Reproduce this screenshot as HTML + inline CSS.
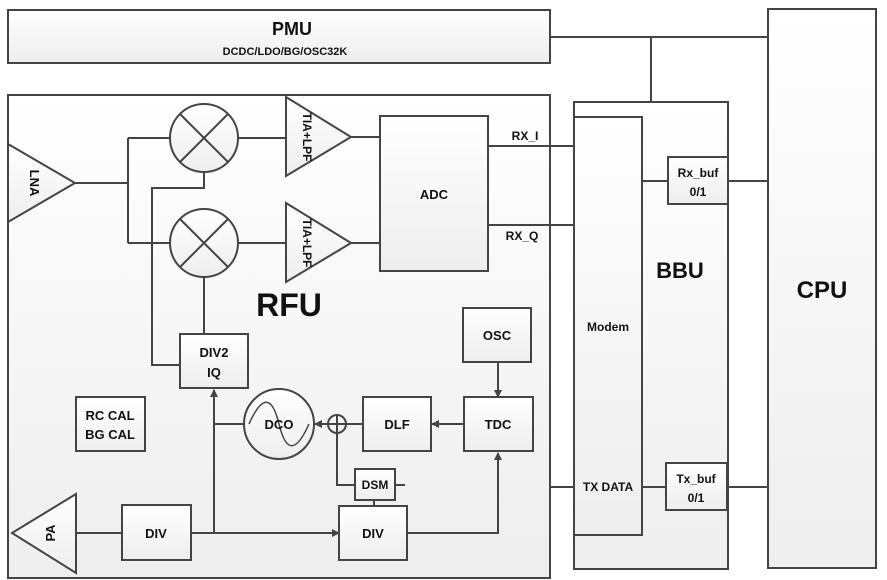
<!DOCTYPE html>
<html><head><meta charset="utf-8"><style>
html,body{margin:0;padding:0;background:#fff;}
svg{display:block;}
text{font-family:"Liberation Sans",sans-serif;font-weight:bold;fill:#111;}
</style></head><body>
<svg width="887" height="580" viewBox="0 0 887 580" xmlns="http://www.w3.org/2000/svg">
<defs>
<linearGradient id="g" x1="0" y1="0" x2="0" y2="1"><stop offset="0" stop-color="#ffffff"/><stop offset="1" stop-color="#eeeeee"/></linearGradient>
<marker id="a" markerWidth="8" markerHeight="8" refX="7" refY="4" orient="auto" markerUnits="userSpaceOnUse"><path d="M0,0 L8,4 L0,8z" fill="#444"/></marker>
</defs>
<g stroke="#444" stroke-width="2" fill="url(#g)">
<rect x="8" y="10" width="542" height="53"/>
<rect x="8" y="95" width="542" height="483"/>
<rect x="574" y="102" width="154" height="467"/>
<rect x="574" y="117" width="68" height="418"/>
<rect x="768" y="9" width="108" height="559"/>
<rect x="668" y="157" width="60" height="47"/>
<rect x="666" y="463" width="61" height="47"/>
<rect x="380" y="116" width="108" height="155"/>
<rect x="180" y="334" width="68" height="54"/>
<rect x="76" y="397" width="69" height="54"/>
<rect x="363" y="397" width="68" height="54"/>
<rect x="464" y="397" width="69" height="54"/>
<rect x="463" y="308" width="68" height="54"/>
<rect x="355" y="469" width="40" height="31"/>
<rect x="339" y="506" width="68" height="54"/>
<rect x="122" y="505" width="69" height="55"/>
<polygon points="8,144 75,183 8,222"/>
<polygon points="286,97 351,137 286,176"/>
<polygon points="286,203 351,243 286,282"/>
<polygon points="76,494 12,533 76,573"/>
<circle cx="204" cy="138" r="34"/>
<circle cx="204" cy="243" r="34"/>
<circle cx="279" cy="424" r="35"/>
<circle cx="337" cy="424" r="9"/>
</g>
<g stroke="#444" stroke-width="2" fill="none">
<path d="M180,114 L228,162 M228,114 L180,162 M180,219 L228,267 M228,219 L180,267"/>
<path d="M328,424 H346 M337,415 V433"/>
<path d="M249,424 C262,395 272,395 279,424 C286,453 296,453 309,424" stroke-width="1.5"/>
<path d="M550,37 H768 M651,37 V102"/>
<path d="M488,146 H574 M488,225 H574 M642,181 H668 M728,181 H768"/>
<path d="M550,487 H574 M642,487 H666 M727,487 H768"/>
<path d="M75,183 H128 M128,138 V243 M128,138 H170 M128,243 H170"/>
<path d="M238,138 H286 M238,243 H286 M351,137 H380 M351,243 H380"/>
<path d="M204,172 V188 H152 V365 H180 M204,277 V334"/>
<path d="M76,533 H122"/>
<path d="M191,533 H339" marker-end="url(#a)"/>
<path d="M214,533 V390" marker-end="url(#a)"/>
<path d="M244,424 H214"/>
<path d="M407,533 H498 V453" marker-end="url(#a)"/>
<path d="M498,362 V397" marker-end="url(#a)"/>
<path d="M464,424 H432" marker-end="url(#a)"/>
<path d="M363,424 H346"/>
<path d="M328,424 H315" marker-end="url(#a)"/>
<path d="M337,433 V485 H355 M374,500 V506 M395,485 H405"/>
</g>
<text x="292" y="35" font-size="18" text-anchor="middle" font-weight="normal">PMU</text>
<text x="285" y="55" font-size="11" text-anchor="middle">DCDC/LDO/BG/OSC32K</text>
<text x="289" y="316" font-size="32" text-anchor="middle">RFU</text>
<text x="680" y="278" font-size="22" text-anchor="middle">BBU</text>
<text x="822" y="298" font-size="24" text-anchor="middle">CPU</text>
<text x="434" y="199" font-size="13" text-anchor="middle">ADC</text>
<text x="525" y="140" font-size="12" text-anchor="middle">RX_I</text>
<text x="522" y="240" font-size="12" text-anchor="middle">RX_Q</text>
<text x="608" y="331" font-size="12" text-anchor="middle">Modem</text>
<text x="608" y="491" font-size="12" text-anchor="middle">TX DATA</text>
<text x="698" y="177" font-size="12" text-anchor="middle">Rx_buf</text>
<text x="698" y="196" font-size="12" text-anchor="middle">0/1</text>
<text x="696" y="483" font-size="12" text-anchor="middle">Tx_buf</text>
<text x="696" y="502" font-size="12" text-anchor="middle">0/1</text>
<text x="214" y="357" font-size="13" text-anchor="middle">DIV2</text>
<text x="214" y="377" font-size="13" text-anchor="middle">IQ</text>
<text x="110" y="420" font-size="13" text-anchor="middle">RC CAL</text>
<text x="110" y="439" font-size="13" text-anchor="middle">BG CAL</text>
<text x="279" y="429" font-size="13" text-anchor="middle">DCO</text>
<text x="397" y="429" font-size="13" text-anchor="middle">DLF</text>
<text x="498" y="429" font-size="13" text-anchor="middle">TDC</text>
<text x="497" y="340" font-size="13" text-anchor="middle">OSC</text>
<text x="375" y="489" font-size="12" text-anchor="middle">DSM</text>
<text x="373" y="538" font-size="13" text-anchor="middle">DIV</text>
<text x="156" y="538" font-size="13" text-anchor="middle">DIV</text>
<text transform="translate(30,183) rotate(90)" font-size="13" text-anchor="middle">LNA</text>
<text transform="translate(303,137) rotate(90)" font-size="12" text-anchor="middle">TIA+LPF</text>
<text transform="translate(303,243) rotate(90)" font-size="12" text-anchor="middle">TIA+LPF</text>
<text transform="translate(55,533) rotate(-90)" font-size="13" text-anchor="middle">PA</text>
</svg>
</body></html>
